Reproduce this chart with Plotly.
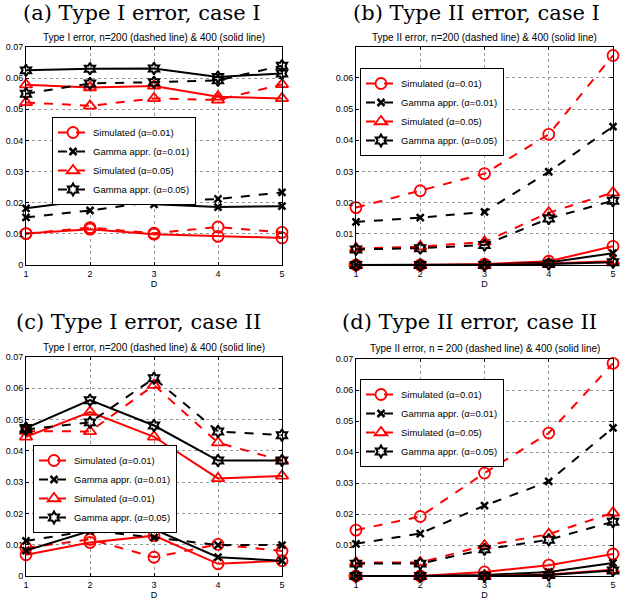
import plotly.graph_objects as go

D = [1, 2, 3, 4, 5]

# (a) Type I error, case I
a_sim01_200 = [0.0101, 0.0120, 0.0102, 0.0122, 0.0105]
a_sim01_400 = [0.0101, 0.0115, 0.0099, 0.0092, 0.0087]
a_gam01_200 = [0.0153, 0.0175, 0.0204, 0.0212, 0.0233]
a_gam01_400 = [0.0182, 0.0209, 0.0195, 0.0186, 0.0189]
a_sim05_200 = [0.0522, 0.0511, 0.0535, 0.0530, 0.0580]
a_sim05_400 = [0.0579, 0.0570, 0.0575, 0.0540, 0.0535]
a_gam05_200 = [0.0550, 0.0583, 0.0587, 0.0593, 0.0640]
a_gam05_400 = [0.0625, 0.0630, 0.0631, 0.0604, 0.0615]

# (b) Type II error, case I
b_sim01_200 = [0.0184, 0.0238, 0.0293, 0.0419, 0.0672]
b_sim01_400 = [0.0, 0.0, 0.0003, 0.0012, 0.0060]
b_gam01_200 = [0.0138, 0.0152, 0.0170, 0.0299, 0.0444]
b_gam01_400 = [0.0, 0.0, 0.0002, 0.0008, 0.0038]
b_sim05_200 = [0.0053, 0.0059, 0.0074, 0.0168, 0.0232]
b_sim05_400 = [0.0, 0.0, 0.0, 0.0005, 0.0012]
b_gam05_200 = [0.0050, 0.0054, 0.0064, 0.0149, 0.0206]
b_gam05_400 = [0.0, 0.0, 0.0, 0.0003, 0.0009]

# (c) Type I error, case II
c_sim01_200 = [0.0090, 0.0117, 0.0060, 0.0101, 0.0080]
c_sim01_400 = [0.0068, 0.0107, 0.0129, 0.0039, 0.0049]
c_gam01_200 = [0.0112, 0.0145, 0.0123, 0.0099, 0.0099]
c_gam01_400 = [0.0081, 0.0144, 0.0149, 0.0060, 0.0049]
c_sim05_200 = [0.0463, 0.0462, 0.0610, 0.0426, 0.0369]
c_sim05_400 = [0.0445, 0.0524, 0.0445, 0.0312, 0.0320]
c_gam05_200 = [0.0468, 0.0491, 0.0632, 0.0462, 0.0450]
c_gam05_400 = [0.0473, 0.0562, 0.0481, 0.0369, 0.0369]

# (d) Type II error, case II
d_sim01_200 = [0.0148, 0.0192, 0.0332, 0.0461, 0.0686]
d_sim01_400 = [0.0, 0.0, 0.0013, 0.0035, 0.0071]
d_gam01_200 = [0.0104, 0.0137, 0.0227, 0.0305, 0.0478]
d_gam01_400 = [0.0, 0.0, 0.0003, 0.0013, 0.0042]
d_sim05_200 = [0.0043, 0.0044, 0.0098, 0.0135, 0.0204]
d_sim05_400 = [0.0, 0.0, 0.0, 0.0005, 0.0020]
d_gam05_200 = [0.0040, 0.0040, 0.0086, 0.0117, 0.0175]
d_gam05_400 = [0.0, 0.0, 0.0, 0.0003, 0.0018]

y_ticks = [0, 0.01, 0.02, 0.03, 0.04, 0.05, 0.06, 0.07]
y_labels = ['0', '0.01', '0.02', '0.03', '0.04', '0.05', '0.06', '0.07']

W, H = 622, 600

panels = [
    dict(title='(a) Type I error, case I',
         sub='Type I error, n=200 (dashed line) & 400 (solid line)',
         series=[a_sim01_200, a_sim01_400, a_gam01_200, a_gam01_400,
                 a_sim05_200, a_sim05_400, a_gam05_200, a_gam05_400],
         names=['Simulated (α=0.01)', 'Gamma appr. (α=0.01)',
                'Simulated (α=0.05)', 'Gamma appr. (α=0.05)'],
         box=(26, 282, 47, 265), ntick=8, ytop=0.07, leg=(52, 117),
         title_y=12.5, title_x=142, sub_y=37.5),
    dict(title='(b) Type II error, case I',
         sub='Type II error, n=200 (dashed line) & 400 (solid line)',
         series=[b_sim01_200, b_sim01_400, b_gam01_200, b_gam01_400,
                 b_sim05_200, b_sim05_400, b_gam05_200, b_gam05_400],
         names=['Simulated (α=0.01)', 'Gamma appr. (α=0.01)',
                'Simulated (α=0.05)', 'Gamma appr. (α=0.05)'],
         box=(356, 613, 47, 265), ntick=7, ytop=0.0699, leg=(360, 68),
         title_y=12.5, title_x=476, sub_y=37.5),
    dict(title='(c) Type I error, case II',
         sub='Type I error, n=200 (dashed line) & 400 (solid line)',
         series=[c_sim01_200, c_sim01_400, c_gam01_200, c_gam01_400,
                 c_sim05_200, c_sim05_400, c_gam05_200, c_gam05_400],
         names=['Simulated (α=0.01)', 'Gamma appr. (α=0.01)',
                'Simulated (α=0.01)', 'Gamma appr. (α=0.05)'],
         box=(26, 282, 357, 576), ntick=8, ytop=0.07, leg=(33, 445),
         title_y=322, title_x=138, sub_y=347),
    dict(title='(d) Type II error, case II',
         sub='Type II error, n = 200 (dashed line) & 400 (solid line)',
         series=[d_sim01_200, d_sim01_400, d_gam01_200, d_gam01_400,
                 d_sim05_200, d_sim05_400, d_gam05_200, d_gam05_400],
         names=['Simulated (α=0.01)', 'Gamma appr. (α=0.01)',
                'Simulated (α=0.05)', 'Gamma appr. (α=0.05)'],
         box=(356, 613, 359, 576), ntick=8, ytop=0.07, leg=(360, 379),
         title_y=322, title_x=469, sub_y=348),
]

styles = [
    dict(color='#ff0000', symbol='circle-open', size=11, lw=1.8),
    dict(color='black', symbol='x-thin-open', size=7, lw=2.5),
    dict(color='#ff0000', symbol='triangle-up-open', size=11, lw=1.8),
    dict(color='black', symbol='hexagram-open', size=9, lw=2),
]

fig = go.Figure()
layout = {}
annotations = []
for i, p in enumerate(panels):
    k = '' if i == 0 else str(i + 1)
    leg_name = 'legend' if i == 0 else 'legend' + str(i + 1)
    x0, x1, y0, y1 = p['box']
    for j, st in enumerate(styles):
        for n_idx, dash in [(0, 'dash'), (1, 'solid')]:
            y = p['series'][2 * j + n_idx]
            fig.add_trace(go.Scatter(
                x=D, y=y, mode='lines+markers',
                name=p['names'][j],
                showlegend=(dash == 'dash'),
                legend=leg_name,
                xaxis='x' + k, yaxis='y' + k,
                cliponaxis=False,
                line=dict(color=st['color'], width=2, dash=dash),
                marker=dict(symbol=st['symbol'], size=st['size'], color=st['color'],
                            line=dict(color=st['color'], width=st['lw'])),
            ))
    axis_common = dict(
        ticks='inside', ticklen=3, tickcolor='black',
        showline=True, mirror='ticks', linecolor='black', linewidth=1,
        showgrid=True, gridcolor='#999999', griddash='dot', gridwidth=1,
        zeroline=False, automargin=False,
        tickfont=dict(family='Liberation Sans', size=9, color='black'),
    )
    layout['xaxis' + k] = dict(
        domain=[x0 / W, x1 / W], anchor='y' + k, range=[1, 5], tickvals=D,
        title=dict(text='D', font=dict(family='Liberation Sans', size=9, color='black'), standoff=1),
        **axis_common,
    )
    layout['yaxis' + k] = dict(
        domain=[1 - y1 / H, 1 - y0 / H], anchor='x' + k, range=[0, p['ytop']],
        tickvals=y_ticks[:p['ntick']], ticktext=y_labels[:p['ntick']],
        **axis_common,
    )
    layout[leg_name] = dict(
        x=p['leg'][0] / W, y=1 - p['leg'][1] / H, xanchor='left', yanchor='top',
        bgcolor='white', bordercolor='black', borderwidth=1,
        font=dict(family='Liberation Sans', size=9.5, color='black'),
        itemwidth=30, tracegroupgap=0,
    )
    annotations.append(dict(
        text=p['title'], x=p['title_x'] / W, y=1 - p['title_y'] / H,
        xref='paper', yref='paper', xanchor='center', yanchor='middle',
        showarrow=False, font=dict(family='DejaVu Serif', size=21, color='black'),
    ))
    annotations.append(dict(
        text=p['sub'], x=(x0 + x1) / 2 / W, y=1 - p['sub_y'] / H,
        xref='paper', yref='paper', xanchor='center', yanchor='middle',
        showarrow=False, font=dict(family='Liberation Sans', size=10, color='black'),
    ))

fig.update_layout(
    width=W, height=H,
    margin=dict(l=0, r=0, t=0, b=0),
    paper_bgcolor='white', plot_bgcolor='white',
    annotations=annotations,
    **layout,
)

# page body has a default margin, drop it so the figure sits at the corner
fig.write_html("out.html", config={'displayModeBar': False},
               post_script="document.body.style.margin='0';")
